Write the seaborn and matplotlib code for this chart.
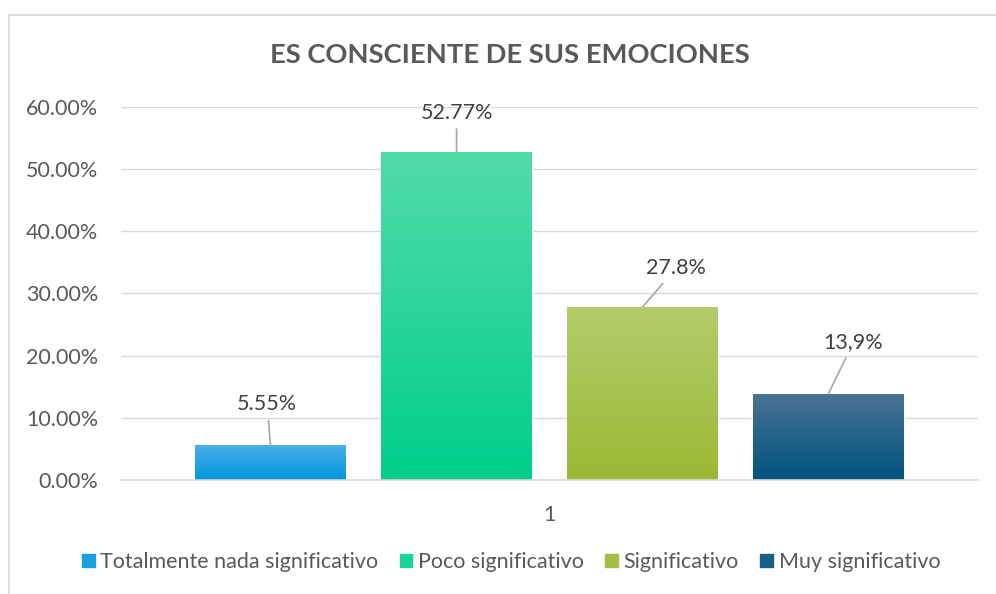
import numpy as np
import pandas as pd
import seaborn as sns
import matplotlib.pyplot as plt
from matplotlib.colors import LinearSegmentedColormap
from matplotlib.patches import Rectangle
from matplotlib.ticker import FuncFormatter

# data
categorias = ["Totalmente nada significativo", "Poco significativo", "Significativo", "Muy significativo"]
valores = [0.0555, 0.5277, 0.278, 0.139]
etiquetas = ["5.55%", "52.77%", "27.8%", "13,9%"]
grupo = ["1", "1", "1", "1"]

# legend colours and gradient (top, bottom) for each bar
colores = ["#1a9fe0", "#1ad59a", "#a3c044", "#1a5f88"]
gradientes = [("#4aaee6", "#0098dc"), ("#52dba9", "#00cf8c"),
              ("#b3cc6a", "#99ba34"), ("#4a7394", "#00547f")]
# offsets (points) of the data labels from the bar tops
offsets = [(-2.5, 29.5), (0, 28), (24, 28), (18, 37)]

df = pd.DataFrame({"grupo": grupo, "valor": valores, "categoria": categorias})

sns.set_theme(style="white")
plt.rcParams["font.family"] = ["Lato", "DejaVu Sans"]

fig = plt.figure(figsize=(9.96, 5.94), dpi=100)
ax = fig.add_axes([0.1215, 0.192, 0.8605, 0.628])

sns.barplot(data=df, x="grupo", y="valor", hue="categoria", palette=colores,
            width=0.868, gap=0.19, ax=ax, legend=True)

ax.set_ylim(0, 0.6)
ax.set_xlim(-0.5, 0.5)
ax.yaxis.set_major_formatter(FuncFormatter(lambda v, p: f"{v*100:.2f}%"))
ax.set_yticks(np.arange(0, 0.61, 0.1))
ax.grid(axis="y", color="#d9d9d9", linewidth=1)
ax.set_axisbelow(True)
for s in ["top", "right", "left"]:
    ax.spines[s].set_visible(False)
ax.spines["bottom"].set_color("#d9d9d9")
ax.spines["bottom"].set_linewidth(1.2)
ax.tick_params(axis="both", length=0, labelsize=15.5, colors="#595959")
ax.tick_params(axis="y", pad=16.5)
ax.tick_params(axis="x", pad=18)
ax.set_xlabel("")
ax.set_ylabel("")

# gradient fills and data labels
bars = [p for p in ax.patches if p.get_height() > 0]
for bar, (top, bot), txt, off in zip(bars, gradientes, etiquetas, offsets):
    x0, y0 = bar.get_x(), bar.get_y()
    w, h = bar.get_width(), bar.get_height()
    cmap = LinearSegmentedColormap.from_list("g", [bot, top])
    grad = np.linspace(0, 1, 100).reshape(-1, 1)
    im = ax.imshow(grad, cmap=cmap, origin="lower", aspect="auto",
                   extent=[x0, x0 + w, y0, y0 + h], zorder=bar.get_zorder() + 0.1)
    im.set_clip_path(bar)
    ax.annotate(txt, xy=(x0 + w / 2, h), xytext=off, textcoords="offset points",
                ha="center", va="center", fontsize=15.5, color="#404040",
                arrowprops=dict(arrowstyle="-", color="#a6a6a6", lw=1.2,
                                shrinkA=2, shrinkB=0))
ax.set_xlim(-0.5, 0.5)
ax.set_ylim(0, 0.6)

ax.legend_.remove()
handles = [Rectangle((0, 0), 1, 1, color=c) for c in colores]
fig.legend(handles, categorias, loc="center", bbox_to_anchor=(0.513, 0.054), ncol=4,
           frameon=False, fontsize=15.5, handlelength=0.6, handleheight=0.6,
           handletextpad=0.25, columnspacing=1.0, labelcolor="#595959")

fig.text(0.512, 0.907, "ES CONSCIENTE DE SUS EMOCIONES", ha="center", va="center",
         fontsize=19.7, fontweight="bold", color="#595959")

# chart area border
fig.patches.append(Rectangle((0.0095, -0.01), 1.0, 0.985, transform=fig.transFigure,
                             fill=False, edgecolor="#d9d9d9", linewidth=1.2))

fig.savefig("out.png", dpi=100)
